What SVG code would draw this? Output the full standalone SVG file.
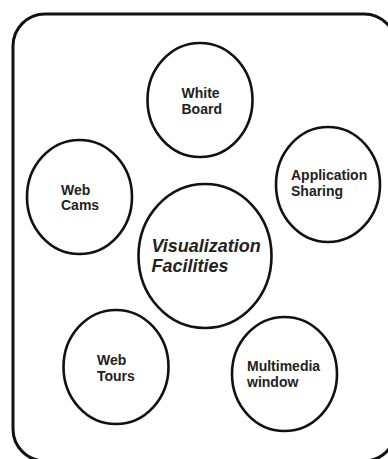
<svg xmlns="http://www.w3.org/2000/svg" width="388" height="459" viewBox="0 0 388 459">
<style>
.frame{fill:none;stroke:#111;stroke-width:3}
.node ellipse{fill:#fff;stroke:#111;stroke-width:2.6}
.lbl{font-family:"Liberation Sans",Arial,sans-serif;font-weight:bold;font-size:14px;fill:#222}
.main{font-family:"Liberation Sans",Arial,sans-serif;font-weight:bold;font-style:italic;font-size:18px;fill:#222}
</style>
<rect width="388" height="459" fill="#fff"/>
<rect class="frame" x="13" y="14" width="383" height="447" rx="32" ry="32"/>
<g id="connectors"></g>
<g id="white-board" class="node">
<ellipse cx="200" cy="100" rx="52.5" ry="57"/>
<text class="lbl" x="181.5" y="98.3">White</text>
<text class="lbl" x="181.5" y="113.5">Board</text>
</g>
<g id="web-cams" class="node">
<ellipse cx="79.5" cy="197" rx="52.5" ry="57"/>
<text class="lbl" x="61" y="195">Web</text>
<text class="lbl" x="61" y="209.5">Cams</text>
</g>
<g id="application-sharing" class="node">
<ellipse cx="328" cy="184.5" rx="52" ry="57.5"/>
<text class="lbl" x="291" y="179.5">Application</text>
<text class="lbl" x="291" y="195.5">Sharing</text>
</g>
<g id="visualization-facilities" class="node">
<ellipse cx="205" cy="256" rx="66.5" ry="72"/>
<text class="main" x="151.5" y="251.7">Visualization</text>
<text class="main" x="151.5" y="271.7">Facilities</text>
</g>
<g id="web-tours" class="node">
<ellipse cx="116" cy="367" rx="52.5" ry="57"/>
<text class="lbl" x="97" y="364.5">Web</text>
<text class="lbl" x="97" y="381">Tours</text>
</g>
<g id="multimedia-window" class="node">
<ellipse cx="284.5" cy="374" rx="52.5" ry="57"/>
<text class="lbl" x="247" y="371">Multimedia</text>
<text class="lbl" x="247" y="387">window</text>
</g>
</svg>
